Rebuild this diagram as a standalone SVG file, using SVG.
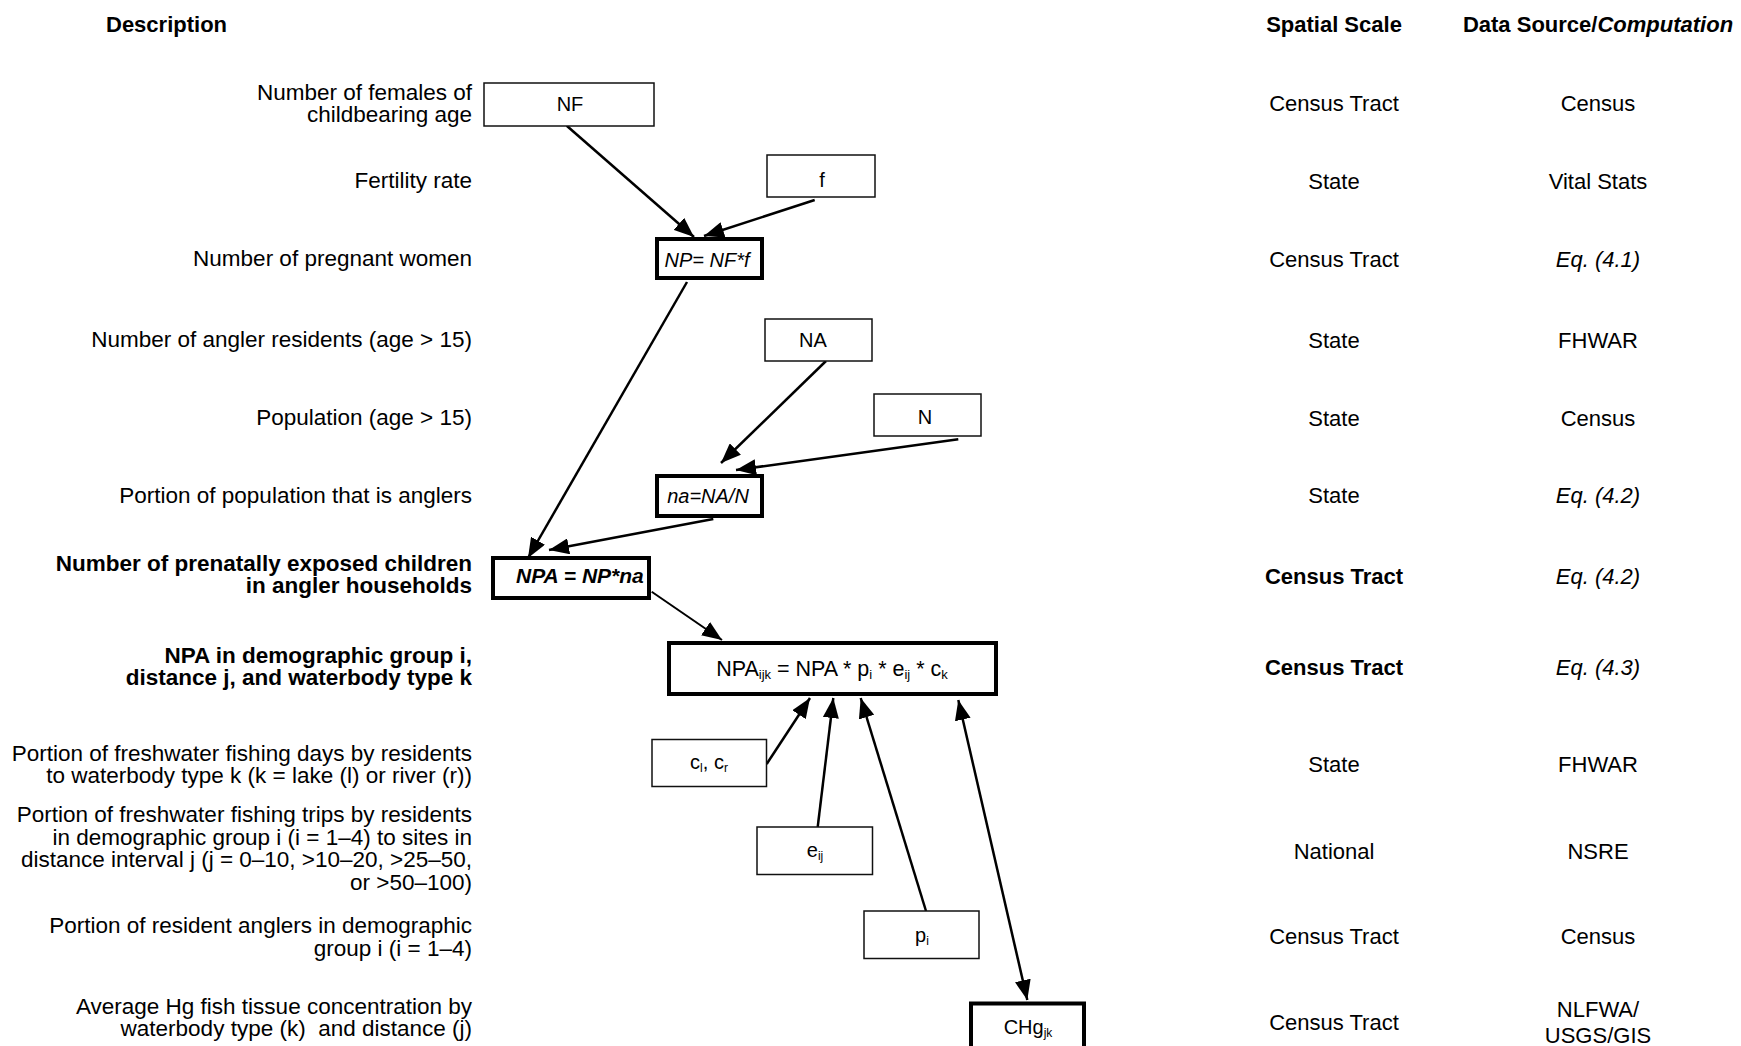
<svg xmlns="http://www.w3.org/2000/svg" width="1741" height="1046" viewBox="0 0 1741 1046">
<defs>
<style>
text{font-family:"Liberation Sans",Arial,sans-serif;fill:#000}
.d{font-size:22.5px;text-anchor:end}
.h{font-size:22px;font-weight:bold}
.c{font-size:22px;text-anchor:middle}
.b{font-weight:bold}
.i{font-style:italic}
.bx{font-size:20px;text-anchor:middle}
.thin{fill:#fff;stroke:#111;stroke-width:1.5}
.thick{fill:#fff;stroke:#000;stroke-width:4}
.ln{fill:none;stroke:#000;stroke-width:2.5;marker-end:url(#ah)}
</style>
<marker id="ah" markerUnits="userSpaceOnUse" markerWidth="20" markerHeight="16" refX="20" refY="8" orient="auto-start-reverse" viewBox="0 0 20 16">
<path d="M0,0 L20,8 L0,16 Z" fill="#000"/>
</marker>
</defs>
<rect width="1741" height="1046" fill="#fff"/>

<g id="headers">
<text class="h" x="106" y="32">Description</text>
<text class="h" x="1334" y="32" text-anchor="middle">Spatial Scale</text>
<text class="h" x="1598" y="32" text-anchor="middle">Data Source/<tspan font-style="italic">Computation</tspan></text>
</g>

<g id="descriptions">
<text class="d" x="472" y="99.5">Number of females of</text>
<text class="d" x="472" y="122.3">childbearing age</text>
<text class="d" x="472" y="188">Fertility rate</text>
<text class="d" x="472" y="265.5">Number of pregnant women</text>
<text class="d" x="472" y="347">Number of angler residents (age &gt; 15)</text>
<text class="d" x="472" y="425">Population (age &gt; 15)</text>
<text class="d" x="472" y="502.5">Portion of population that is anglers</text>
<text class="d b" x="472" y="570.5">Number of prenatally exposed children</text>
<text class="d b" x="472" y="593.3">in angler households</text>
<text class="d b" x="472" y="662.5">NPA in demographic group i,</text>
<text class="d b" x="472" y="685.3">distance j, and waterbody type k</text>
<text class="d" x="472" y="760.5">Portion of freshwater fishing days by residents</text>
<text class="d" x="472" y="783.3">to waterbody type k (k = lake (l) or river (r))</text>
<text class="d" x="472" y="821.7">Portion of freshwater fishing trips by residents</text>
<text class="d" x="472" y="844.5">in demographic group i (i = 1–4) to sites in</text>
<text class="d" x="472" y="867.3">distance interval j (j = 0–10, &gt;10–20, &gt;25–50,</text>
<text class="d" x="472" y="890">or &gt;50–100)</text>
<text class="d" x="472" y="933">Portion of resident anglers in demographic</text>
<text class="d" x="472" y="955.8">group i (i = 1–4)</text>
<text class="d" x="472" y="1013.5">Average Hg fish tissue concentration by</text>
<text class="d" x="472" y="1036.3">waterbody type (k)&#160; and distance (j)</text>
</g>

<g id="scales">
<text class="c" x="1334" y="111">Census Tract</text>
<text class="c" x="1334" y="189">State</text>
<text class="c" x="1334" y="266.5">Census Tract</text>
<text class="c" x="1334" y="347.5">State</text>
<text class="c" x="1334" y="425.5">State</text>
<text class="c" x="1334" y="503">State</text>
<text class="c b" x="1334" y="584">Census Tract</text>
<text class="c b" x="1334" y="675">Census Tract</text>
<text class="c" x="1334" y="772">State</text>
<text class="c" x="1334" y="858.5">National</text>
<text class="c" x="1334" y="944">Census Tract</text>
<text class="c" x="1334" y="1029.5">Census Tract</text>
</g>

<g id="sources">
<text class="c" x="1598" y="111">Census</text>
<text class="c" x="1598" y="189">Vital Stats</text>
<text class="c i" x="1598" y="266.5">Eq. (4.1)</text>
<text class="c" x="1598" y="347.5">FHWAR</text>
<text class="c" x="1598" y="425.5">Census</text>
<text class="c i" x="1598" y="503">Eq. (4.2)</text>
<text class="c i" x="1598" y="584">Eq. (4.2)</text>
<text class="c i" x="1598" y="675">Eq. (4.3)</text>
<text class="c" x="1598" y="772">FHWAR</text>
<text class="c" x="1598" y="858.5">NSRE</text>
<text class="c" x="1598" y="944">Census</text>
<text class="c" x="1598" y="1017">NLFWA/</text>
<text class="c" x="1598" y="1043">USGS/GIS</text>
</g>

<g id="connectors">
<line class="ln" x1="566.7" y1="125.7" x2="694" y2="237"/>
<line class="ln" x1="814.7" y1="200" x2="704" y2="236"/>
<line class="ln" x1="687" y1="282" x2="528" y2="558"/>
<line class="ln" x1="826" y1="361" x2="721" y2="463"/>
<line class="ln" x1="958.3" y1="439.3" x2="736" y2="470"/>
<line class="ln" x1="713.3" y1="519" x2="549" y2="550"/>
<line class="ln" style="stroke-width:2" x1="651.7" y1="591.7" x2="722" y2="640"/>
<line class="ln" x1="766.7" y1="764" x2="810" y2="698"/>
<line class="ln" x1="817.7" y1="827" x2="833.3" y2="698"/>
<line class="ln" x1="926" y1="911" x2="860.7" y2="698"/>
<line class="ln" style="marker-start:url(#ah)" x1="958.3" y1="700" x2="1027.3" y2="1000"/>
</g>

<g id="node-NF">
<rect class="thin" x="484" y="83" width="170" height="43"/>
<text class="bx" x="570" y="111">NF</text>
</g>
<g id="node-f">
<rect class="thin" x="767" y="155" width="108" height="42"/>
<text class="bx" x="822" y="187">f</text>
</g>
<g id="node-NP">
<rect class="thick" x="657" y="239" width="105" height="39"/>
<text class="bx i" x="707" y="266.5">NP= NF*f</text>
</g>
<g id="node-NA">
<rect class="thin" x="765" y="319" width="107" height="42"/>
<text class="bx" x="813" y="347">NA</text>
</g>
<g id="node-N">
<rect class="thin" x="874" y="394" width="107" height="42"/>
<text class="bx" x="925" y="424">N</text>
</g>
<g id="node-na">
<rect class="thick" x="657" y="476" width="105" height="40"/>
<text class="bx i" x="708" y="503">na=NA/N</text>
</g>
<g id="node-NPA">
<rect class="thick" x="493" y="558" width="156" height="40"/>
<text x="516" y="583" font-size="21" font-weight="bold" font-style="italic">NPA = NP*na</text>
</g>
<g id="node-NPAijk">
<rect class="thick" x="669" y="643" width="327" height="51"/>
<text x="832" y="676" font-size="21.5" text-anchor="middle">NPA<tspan font-size="13" dy="3">ijk</tspan><tspan dy="-3"> = NPA * p</tspan><tspan font-size="13" dy="3">i</tspan><tspan dy="-3"> * e</tspan><tspan font-size="13" dy="3">ij</tspan><tspan dy="-3"> * c</tspan><tspan font-size="13" dy="3">k</tspan></text>
</g>
<g id="node-c">
<rect class="thin" x="652" y="739.5" width="114.5" height="47"/>
<text class="bx" x="709" y="769">c<tspan font-size="12" dy="3">l</tspan><tspan dy="-3">, c</tspan><tspan font-size="12" dy="3">r</tspan></text>
</g>
<g id="node-e">
<rect class="thin" x="757" y="827" width="115.5" height="47.5"/>
<text class="bx" x="815" y="857">e<tspan font-size="12" dy="3">ij</tspan></text>
</g>
<g id="node-p">
<rect class="thin" x="864" y="911" width="115" height="47.5"/>
<text class="bx" x="922" y="942">p<tspan font-size="12" dy="3">i</tspan></text>
</g>
<g id="node-CHg">
<rect class="thick" x="971" y="1003.5" width="113" height="60"/>
<text class="bx" x="1028" y="1034">CHg<tspan font-size="12" dy="3">jk</tspan></text>
</g>
</svg>
